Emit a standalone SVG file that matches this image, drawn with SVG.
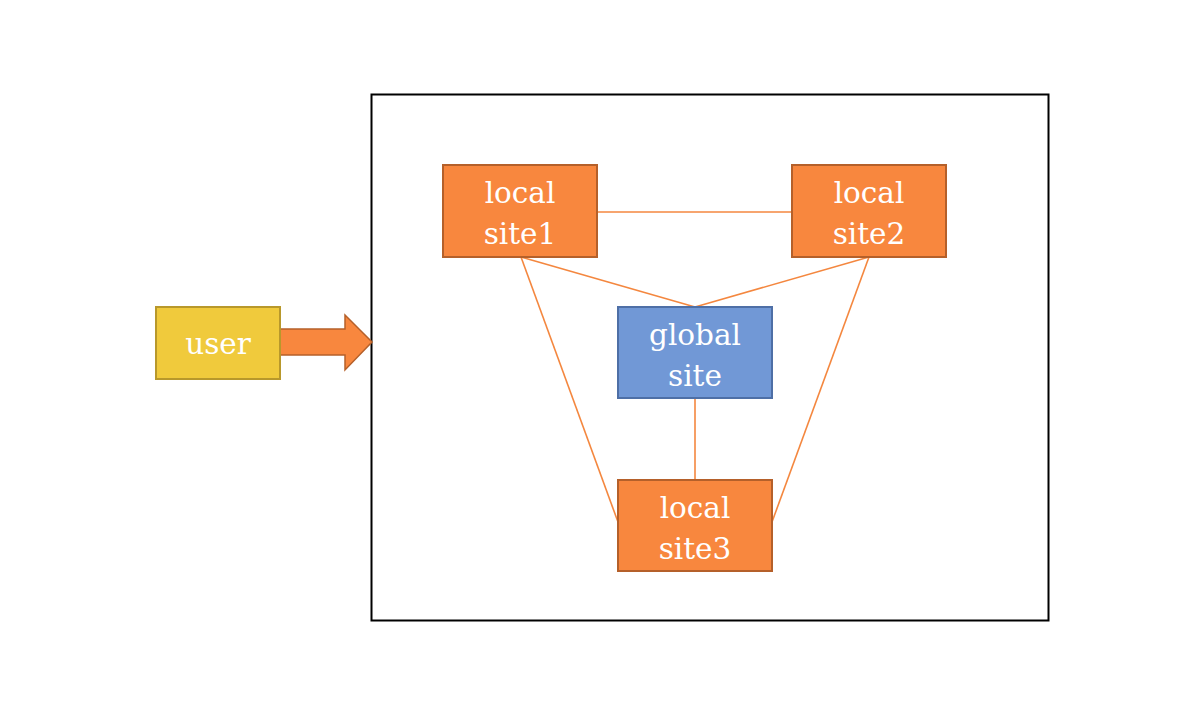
<svg xmlns="http://www.w3.org/2000/svg" width="1200" height="720" viewBox="0 0 1200 720">
<style>
.orange{fill:#F8873E;stroke:#B5602A;stroke-width:2}
.blue{fill:#7198D6;stroke:#4E6FA6;stroke-width:2}
.yellow{fill:#F0CA3C;stroke:#B8982B;stroke-width:2}
.lbl{font-family:"DejaVu Serif","Liberation Serif",serif;font-size:29.5px;fill:#FFFFFF;text-anchor:middle}
.conn{stroke:#F4873F;stroke-width:1.6;fill:none}
</style>
<rect width="1200" height="720" fill="#FFFFFF"/>
<rect id="frame" x="371.5" y="94.5" width="677" height="526" fill="none" stroke="#000" stroke-width="2"/>
<g id="connectors">
<line class="conn" x1="597" y1="212" x2="792" y2="212"/>
<line class="conn" x1="521" y1="257" x2="695" y2="307"/>
<line class="conn" x1="869" y1="257" x2="695" y2="307"/>
<line class="conn" x1="521" y1="257" x2="618" y2="522"/>
<line class="conn" x1="869" y1="257" x2="772" y2="522"/>
<line class="conn" x1="695" y1="398" x2="695" y2="480"/>
<polygon id="arrow" points="280,329 345,329 345,315 372,342 345,370 345,355 280,355" fill="#F8873E" stroke="#B5602A" stroke-width="1.5"/>
</g>
<g id="user">
<rect class="yellow" x="156" y="307" width="124" height="72"/>
<text class="lbl" x="218" y="354">user</text>
</g>
<g id="site1">
<rect class="orange" x="443" y="165" width="154" height="92"/>
<text class="lbl" x="520" y="203">local</text>
<text class="lbl" x="520" y="244">site1</text>
</g>
<g id="site2">
<rect class="orange" x="792" y="165" width="154" height="92"/>
<text class="lbl" x="869" y="203">local</text>
<text class="lbl" x="869" y="244">site2</text>
</g>
<g id="global">
<rect class="blue" x="618" y="307" width="154" height="91"/>
<text class="lbl" x="695" y="345">global</text>
<text class="lbl" x="695" y="386">site</text>
</g>
<g id="site3">
<rect class="orange" x="618" y="480" width="154" height="91"/>
<text class="lbl" x="695" y="518">local</text>
<text class="lbl" x="695" y="559">site3</text>
</g>
</svg>
